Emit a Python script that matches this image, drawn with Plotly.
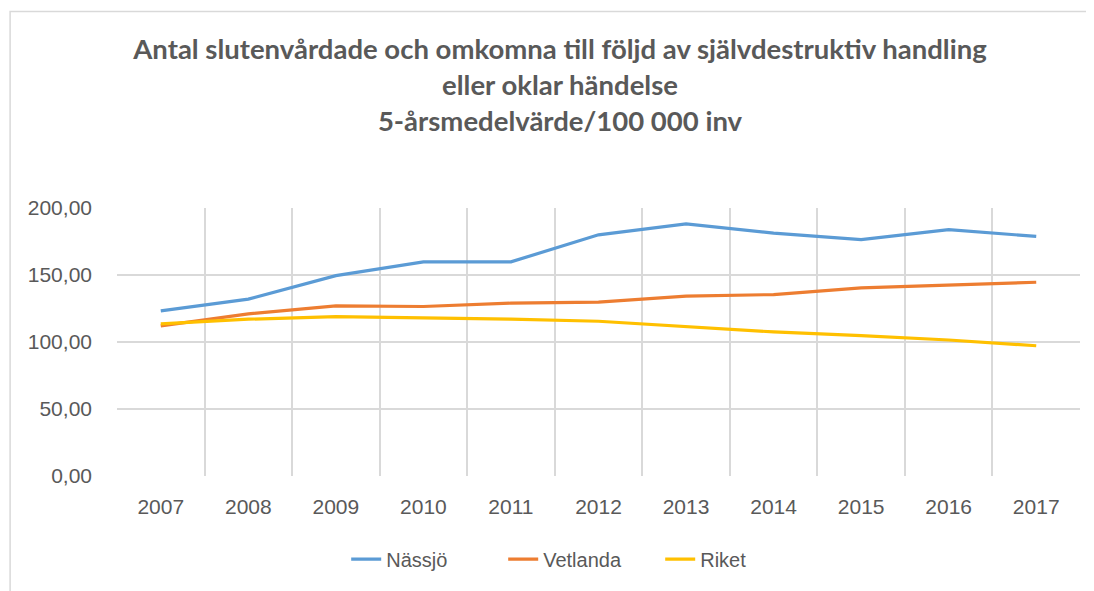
import plotly.graph_objects as go

years = ["2007", "2008", "2009", "2010", "2011", "2012", "2013", "2014", "2015", "2016", "2017"]
nassjo = [123.2, 132.0, 149.5, 159.8, 159.8, 180.0, 188.2, 181.2, 176.4, 183.8, 178.8]
vetlanda = [112.0, 121.0, 127.0, 126.5, 129.0, 129.8, 134.2, 135.4, 140.4, 142.4, 144.6]
riket = [113.5, 117.0, 118.9, 118.0, 117.0, 115.5, 111.5, 107.5, 104.7, 101.5, 97.2]

series = [("Nässjö", nassjo, "#5B9BD5"), ("Vetlanda", vetlanda, "#ED7D31"), ("Riket", riket, "#FFC000")]

fig = go.Figure()
for name, vals, col in series:
    fig.add_trace(go.Scatter(x=years, y=vals, name=name, mode="lines",
                             line=dict(color=col, width=3.2)))

tick_font = "Liberation Sans, Arial, sans-serif"
fig.update_layout(
    width=1086, height=583,
    margin=dict(l=109, r=14, t=200, b=115, autoexpand=False),
    paper_bgcolor="white", plot_bgcolor="white",
    separators=", ",
    title=dict(text="<b>Antal slutenvårdade och omkomna till följd av självdestruktiv handling<br>eller oklar händelse<br>5-årsmedelvärde/100 000 inv</b>",
               x=0.5083, xref="container", xanchor="center", y=0.912, yanchor="middle",
               font=dict(family="Lato, sans-serif", size=27.5, color="#595959")),
    showlegend=True,
    legend=dict(orientation="h", x=0.238, xanchor="left", xref="paper", y=-0.31, yanchor="middle",
                font=dict(family=tick_font, size=20, color="#595959"),
                entrywidth=112, entrywidthmode="pixels",
                traceorder="normal"),
    xaxis=dict(type="category", range=[-0.5, 10.5], tickson="boundaries", showgrid=True,
               gridcolor="#d9d9d9", gridwidth=1.5, ticks="", showline=False, zeroline=False,
               tickfont=dict(family=tick_font, size=21, color="#595959"), tickangle=0,
               ticklabelstandoff=16),
    yaxis=dict(range=[0, 200], dtick=50, tickformat=".2f", showgrid=True, gridcolor="#d9d9d9",
               gridwidth=1.5, zeroline=False, showline=False, ticks="",
               tickfont=dict(family=tick_font, size=21, color="#595959"),
               ticklabelstandoff=24),
)

fig.add_shape(type="rect", xref="paper", yref="paper", x0=-0.111, x1=1.2, y0=-0.5, y1=1.733,
              line=dict(color="#d9d9d9", width=1.5), fillcolor="rgba(0,0,0,0)", layer="below")

fig.write_html("out.html")
